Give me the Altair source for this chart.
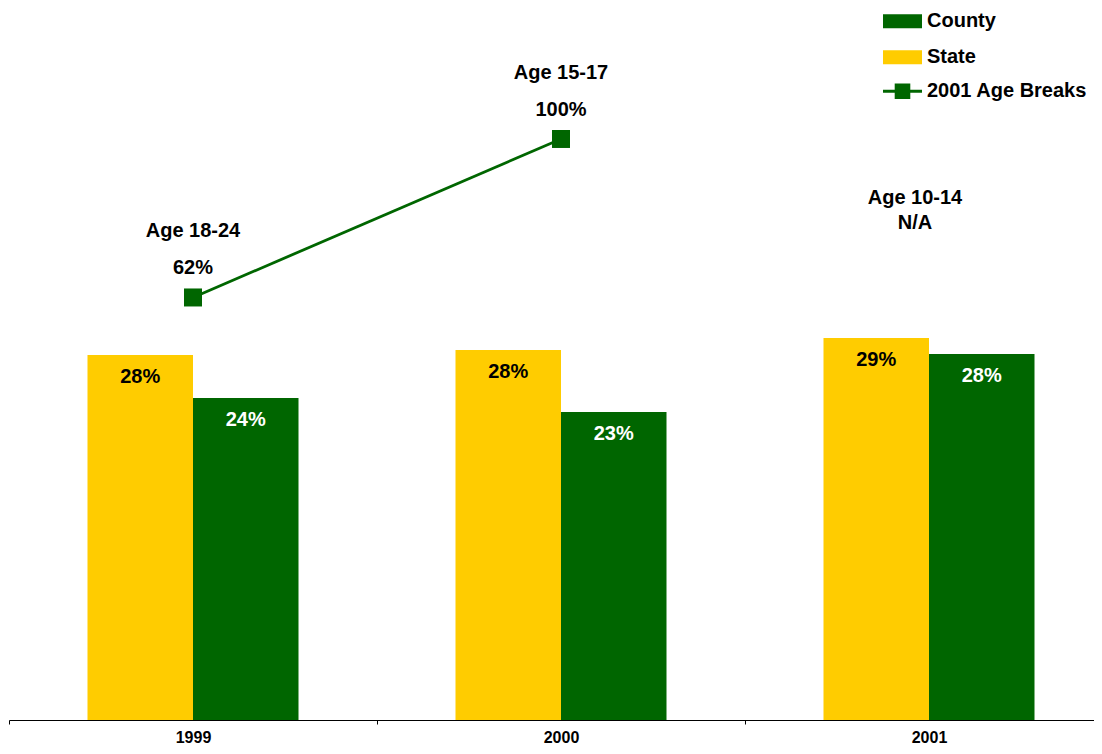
import altair as alt
import pandas as pd

# ---- data ----
years = ["1999", "2000", "2001"]
bar_series = ["State", "County"]
state_pct = [27.65, 28.03, 28.94]
county_pct = [24.4, 23.33, 27.73]
age_groups = ["Age 18-24", "Age 15-17", "Age 10-14"]
age_break_pct = [62, 100, None]
line_series = "2001 Age Breaks"
na_text = "N/A"

GREEN = "#006600"
YELLOW = "#FFCC00"
FONT = "Liberation Sans"

bars_df = pd.DataFrame({
    "year": years * 2,
    "series": ["State"] * len(years) + ["County"] * len(years),
    "value": state_pct + county_pct,
})
bars_df["label"] = bars_df["value"].round(0).astype(int).astype(str) + "%"

age_df = pd.DataFrame({"year": years, "group": age_groups, "pct": age_break_pct})
age_df["series"] = line_series
age_pts = age_df.dropna().copy()
age_pts["pct_label"] = age_pts["pct"].astype(int).astype(str) + "%"
na_df = age_df[age_df["pct"].isna()].copy()
na_df["note"] = na_text

x_enc = alt.X(
    "year:N", sort=years,
    scale=alt.Scale(range=[0, 1104], paddingInner=0, paddingOuter=0),
    axis=alt.Axis(title=None, labelAngle=0, tickBand="extent", tickSize=4,
                  tickColor="black", domainColor="black", tickWidth=1, domainWidth=1,
                  labelFont=FONT, labelFontSize=16, labelFontWeight="bold",
                  labelColor="black", labelBaseline="alphabetic", labelPadding=18,
                  grid=False),
)
xoff = alt.XOffset("series:N", sort=bar_series,
                   scale=alt.Scale(paddingOuter=0.744, paddingInner=0))
y_bar = alt.Y("value:Q", scale=alt.Scale(domain=[0, 712 / 13.2]), axis=None)
y_line = alt.Y("pct:Q", scale=alt.Scale(domain=[-39.3, 131.4]), axis=None)

legend_common = dict(title=None, orient="none", legendX=874, symbolSize=1521,
                     symbolStrokeWidth=0, labelFont=FONT, labelFontSize=20,
                     labelFontWeight="bold", labelColor="black", labelLimit=0,
                     labelOffset=5, padding=0)

bars = alt.Chart(bars_df).mark_bar().encode(
    x=x_enc, xOffset=xoff, y=y_bar,
    color=alt.Color("series:N",
                    scale=alt.Scale(domain=["County", "State"], range=[GREEN, YELLOW]),
                    legend=alt.Legend(legendY=-6.2, symbolType="M-1,-0.36H1V0.36H-1Z",
                                      rowPadding=6, **legend_common)),
)

bar_labels = alt.Chart(bars_df).mark_text(
    font=FONT, fontSize=20, fontWeight="bold", dy=28, baseline="alphabetic"
).encode(
    x=x_enc, xOffset=xoff, y=y_bar, text="label:N",
    color=alt.condition("datum.series == 'State'", alt.value("black"), alt.value("white")),
)

line = alt.Chart(age_pts).mark_line(color=GREEN, strokeWidth=2.8).encode(x=x_enc, y=y_line)

points = alt.Chart(age_pts).mark_point(shape="square", filled=True, size=324, opacity=1).encode(
    x=x_enc, y=y_line,
    color=alt.Color("series:N",
                    scale=alt.Scale(domain=[line_series], range=[GREEN]),
                    legend=alt.Legend(legendY=63.8,
                                      symbolType="M-1,-0.075H1V0.075H-1Z M-0.4,-0.4H0.4V0.4H-0.4Z",
                                      **legend_common)),
)

txt = dict(font=FONT, fontSize=20, fontWeight="bold", color="black", baseline="alphabetic")
group_labels = alt.Chart(age_pts).mark_text(dy=-60, **txt).encode(x=x_enc, y=y_line, text="group:N")
pct_labels = alt.Chart(age_pts).mark_text(dy=-23, **txt).encode(x=x_enc, y=y_line, text="pct_label:N")

na_group = alt.Chart(na_df).mark_text(dx=-14, **txt).encode(x=x_enc, y=alt.value(196.3), text="group:N")
na_note = alt.Chart(na_df).mark_text(dx=-14, **txt).encode(x=x_enc, y=alt.value(221.3), text="note:N")

chart = alt.layer(
    bars, bar_labels, line, points, group_labels, pct_labels, na_group, na_note
).resolve_scale(
    y="independent", color="independent"
).properties(
    width=1085, height=712,
    autosize=alt.AutoSizeParams(type="none"),
    padding={"left": 1, "top": 0, "right": 0, "bottom": 26},
).configure_view(stroke=None)

chart.save("out.html", embed_options={"renderer": "svg", "actions": False})
